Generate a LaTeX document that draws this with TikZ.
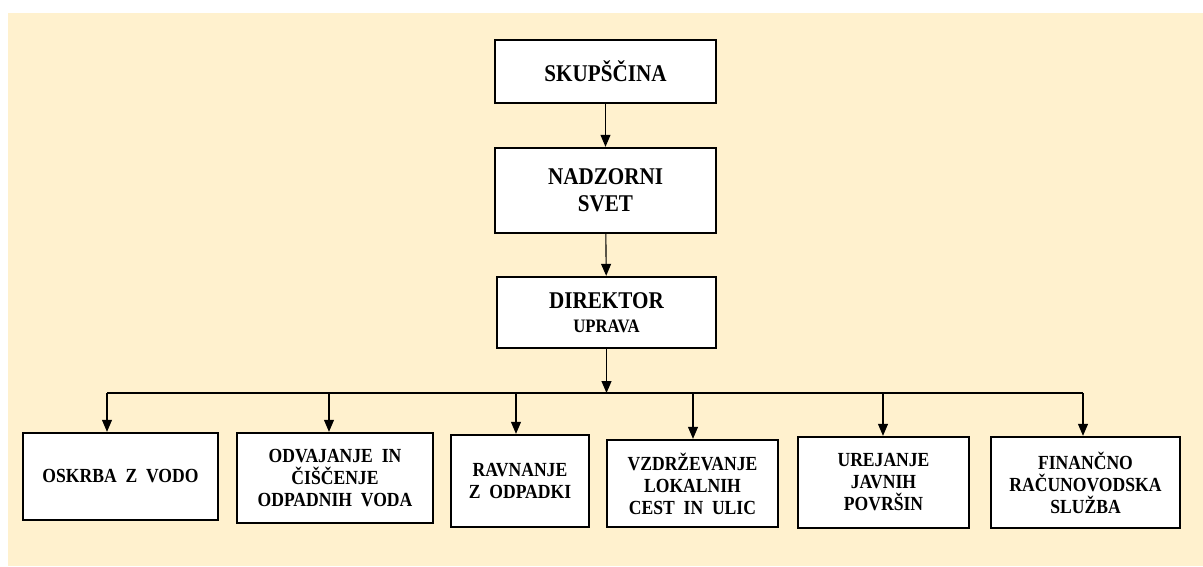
\documentclass[tikz,border=0pt]{standalone}
\usepackage{fontspec}
\setmainfont{Liberation Serif}[FakeStretch=0.88]
\usetikzlibrary{arrows.meta}
\definecolor{bgbeige}{RGB}{255,241,206}

\begin{document}
\begin{tikzpicture}[x=1pt, y=-1pt,
        box/.style = {draw=black, line width=2.4pt, fill=white, align=center,
                      inner sep=0pt},
        topfont/.style = {font=\fontsize{24}{27}\selectfont\bfseries},
        lowfont/.style = {font=\fontsize{20}{22}\selectfont\bfseries},
        arr/.style = {black, line width=1.1pt, -{Triangle[length=12pt, width=10pt]}}]
        \useasboundingbox (0,0) rectangle (1203,566);
        \fill[bgbeige] (8,13) rectangle (1203,566);

        \node[box, topfont, minimum width=221, minimum height=63] (skup) at (605.5,71.5) {SKUPŠČINA};
        \node[box, topfont, minimum width=221, minimum height=85] (nadz) at (605.5,190.5) {NADZORNI\\SVET};
        \node[box, font=\fontsize{24}{24}\selectfont\bfseries, minimum width=219, minimum height=71] (dir) at (606.5,312.5)
            {DIREKTOR\\{\fontsize{19}{20}\selectfont UPRAVA}};

        \node[box, lowfont, minimum width=195, minimum height=87] (oskrba) at (120.5,476.5) {OSKRBA \ Z \ VODO};
        \node[box, lowfont, minimum width=196, minimum height=90] (odvaj) at (335,478) {ODVAJANJE \ IN\\ČIŠČENJE\\ODPADNIH \ VODA};
        \node[box, lowfont, minimum width=138, minimum height=92] (ravn) at (520,481) {RAVNANJE\\Z \ ODPADKI};
        \node[box, lowfont, minimum width=171, minimum height=87] (vzdr) at (692.5,483.5) {VZDRŽEVANJE\\LOKALNIH\\CEST \ IN \ ULIC};
        \node[box, lowfont, minimum width=171, minimum height=91] (urej) at (883.5,482.5) {UREJANJE\\JAVNIH\\POVRŠIN};
        \node[box, lowfont, minimum width=189, minimum height=91] (fin) at (1085.5,482.5) {FINANČNO\\RAČUNOVODSKA\\SLUŽBA};

        % vodoravna linija
        \coordinate (t1) at (107,393);
        \coordinate (t2) at (329,393);
        \coordinate (t3) at (516,393);
        \coordinate (t4) at (693,393);
        \coordinate (t5) at (883,393);
        \coordinate (t6) at (1083,393);
        \draw[black, line width=1.6pt] (t1) -- (t6);

        \draw[arr] (skup) -- (nadz);
        \draw[arr] (nadz) -- (dir);
        \draw[arr] (dir.south) -- (dir.south |- t1);

        \draw[arr] (t1) -- (t1 |- oskrba.north);
        \draw[arr] (t2) -- (t2 |- odvaj.north);
        \draw[arr] (t3) -- (t3 |- ravn.north);
        \draw[arr] (t4) -- (t4 |- vzdr.north);
        \draw[arr] (t5) -- (t5 |- urej.north);
        \draw[arr] (t6) -- (t6 |- fin.north);
    \end{tikzpicture}
\end{document}
